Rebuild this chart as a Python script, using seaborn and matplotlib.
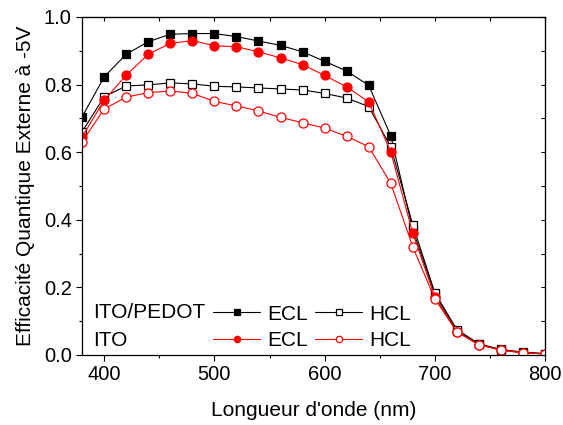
import numpy as np
import pandas as pd
import matplotlib
matplotlib.use("Agg")
import matplotlib.pyplot as plt
import seaborn as sns

# Data
wavelength = [380, 400, 420, 440, 460, 480, 500, 520, 540, 560, 580,
              600, 620, 640, 660, 680, 700, 720, 740, 760, 780, 800]
pedot_ecl = [0.705, 0.823, 0.890, 0.927, 0.949, 0.951, 0.951, 0.942, 0.929, 0.916, 0.897,
             0.869, 0.840, 0.798, 0.649, 0.370, 0.180, 0.070, 0.031, 0.015, 0.007, 0.003]
pedot_hcl = [0.661, 0.764, 0.796, 0.799, 0.805, 0.802, 0.795, 0.793, 0.790, 0.787, 0.784,
             0.774, 0.760, 0.735, 0.616, 0.385, 0.184, 0.075, 0.033, 0.016, 0.008, 0.004]
ito_ecl = [0.646, 0.754, 0.828, 0.890, 0.922, 0.930, 0.915, 0.912, 0.897, 0.879, 0.859,
           0.827, 0.793, 0.749, 0.601, 0.360, 0.172, 0.068, 0.030, 0.014, 0.006, 0.003]
ito_hcl = [0.631, 0.728, 0.763, 0.776, 0.781, 0.774, 0.750, 0.737, 0.722, 0.703, 0.687,
           0.671, 0.647, 0.616, 0.508, 0.320, 0.166, 0.068, 0.030, 0.014, 0.006, 0.003]

sns.set_style("ticks")
plt.rcParams['font.family'] = ['Liberation Sans', 'DejaVu Sans']
for key in ['text.color', 'axes.labelcolor', 'xtick.color', 'ytick.color', 'axes.edgecolor']:
    plt.rcParams[key] = 'black'

fig = plt.figure(figsize=(5.63, 4.25), dpi=100)
ax = fig.add_axes([0.146, 0.165, 0.822, 0.795])

styles = [
    (pedot_ecl, 'black', 's', 'black', 5.8, "ECL"),
    (pedot_hcl, 'black', 's', 'white', 5.8, "HCL"),
    (ito_ecl, 'red', 'o', 'red', 6.5, "ECL"),
    (ito_hcl, 'red', 'o', 'white', 6.5, "HCL"),
]
for vals, col, mk, face, ms, lab in styles:
    sns.lineplot(x=wavelength, y=vals, ax=ax, color=col, marker=mk, markersize=ms,
                 markerfacecolor=face, markeredgecolor=col, markeredgewidth=0.9,
                 linewidth=0.8, label=lab)

ax.set_xlim(380, 800)
ax.set_ylim(0, 1.0)
ax.set_xticks([400, 500, 600, 700, 800])
ax.set_xticks(np.arange(400, 801, 50), minor=True)
ax.set_yticks(np.arange(0, 1.01, 0.2))
ax.set_yticks(np.arange(0, 1.01, 0.1), minor=True)
ax.set_yticklabels([f"{v:.1f}" for v in np.arange(0, 1.01, 0.2)])
ax.tick_params(axis='both', which='major', labelsize=14.5, length=4, width=0.8, direction='out')
ax.tick_params(axis='both', which='minor', length=2.5, width=0.8, direction='out')

# mirrored ticks on top/right, inside
top = ax.secondary_xaxis('top')
top.set_xticks(np.arange(400, 801, 50))
top.tick_params(direction='in', length=3, labeltop=False, width=0.8)
right = ax.secondary_yaxis('right')
right.set_yticks(np.arange(0, 1.01, 0.1))
right.tick_params(direction='in', length=3, labelright=False, width=0.8)

for sp in ax.spines.values():
    sp.set_linewidth(0.9)
    sp.set_visible(True)

ax.set_xlabel("Longueur d'onde (nm)", fontsize=15, labelpad=12)
ax.set_ylabel("Efficacité Quantique Externe à -5V", fontsize=15, labelpad=6)

handles = ax.get_lines()
ax.legend([handles[0], handles[2], handles[1], handles[3]],
          ["ECL", "ECL", "HCL", "HCL"], ncol=2, frameon=False, fontsize=15,
          loc='center left', bbox_to_anchor=(0.283, 0.082), borderaxespad=0, borderpad=0,
          handlelength=2.26, handletextpad=0.34, columnspacing=0.34, labelspacing=0.35,
          markerscale=0.7)
ax.text(0.024, 0.124, "ITO/PEDOT", transform=ax.transAxes, fontsize=15, va='center')
ax.text(0.024, 0.044, "ITO", transform=ax.transAxes, fontsize=15, va='center')

fig.savefig("out.png", dpi=100)
